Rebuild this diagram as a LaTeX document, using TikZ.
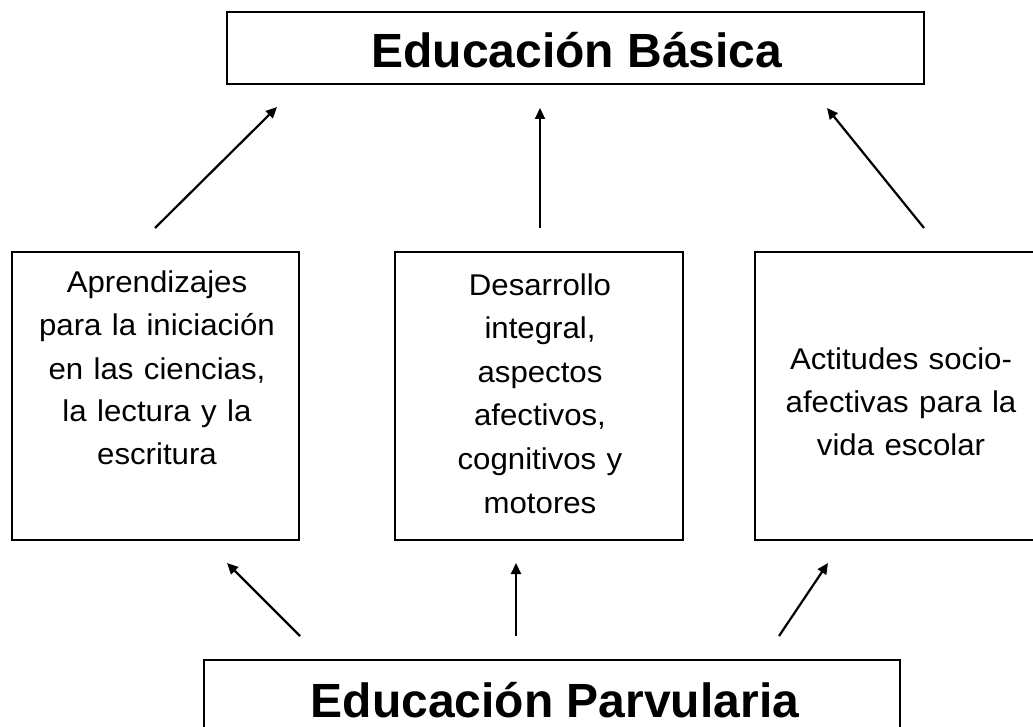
\documentclass[tikz,border=0pt]{standalone}
\usepackage{fontspec}
\setmainfont{Liberation Sans}
\newfontfamily\bodyfont[FakeStretch=1.04,WordSpace=1.2]{Liberation Sans}
\usetikzlibrary{arrows.meta}
\begin{document}
\begin{tikzpicture}[x=1pt,y=-1pt,
  box/.style={draw,line width=1.9pt,inner sep=0pt},
  titletext/.style={font=\bfseries\fontsize{48}{56}\selectfont,anchor=base,inner sep=0pt},
  bodytext/.style={font=\bodyfont\fontsize{30}{43}\selectfont,anchor=base,inner sep=0pt},
  conn/.style={line width=2.2pt,-{Triangle[length=11pt,width=10pt]}}]
\useasboundingbox (0,0) rectangle (1033,727);
\clip (0,0) rectangle (1033,727);
\fill[white] (0,0) rectangle (1033,727);
% boxes
\node[box,minimum width=697pt,minimum height=72pt] (basica) at (575.5,48) {};
\node[box,minimum width=287pt,minimum height=288pt] (left) at (155.5,396) {};
\node[box,minimum width=288pt,minimum height=288pt] (mid) at (539,396) {};
\node[box,minimum width=292pt,minimum height=288pt] (right) at (901,396) {};
\node[box,minimum width=696pt,minimum height=85pt] (parv) at (552,702.5) {};
% texts
\node[titletext] (tbasica) at (577,68) {Educación Básica};
\node[titletext] (tparv) at (555,717) {Educación Parvularia};
\node[bodytext] (tleft) at (157,293) {\begin{tabular}[t]{@{}c@{}}Aprendizajes\\para la iniciación\\en las ciencias,\\la lectura y la\\escritura\end{tabular}};
\node[bodytext,font=\bodyfont\fontsize{30}{43.6}\selectfont] (tmid) at (540,295) {\begin{tabular}[t]{@{}c@{}}Desarrollo\\integral,\\aspectos\\afectivos,\\cognitivos y\\motores\end{tabular}};
\node[bodytext] (tright) at (901,369) {\begin{tabular}[t]{@{}c@{}}Actitudes socio-\\afectivas para la\\vida escolar\end{tabular}};
% arrow end points
\coordinate (a1s) at (155,228); \coordinate (a1e) at (277,107);
\coordinate (a2s) at (540,228); \coordinate (a2e) at (540,108);
\coordinate (a3s) at (924,228); \coordinate (a3e) at (827,108);
\coordinate (b1s) at (300,636); \coordinate (b1e) at (227,563);
\coordinate (b2s) at (516,636); \coordinate (b2e) at (516,563);
\coordinate (b3s) at (779,636); \coordinate (b3e) at (828,563);
\draw[conn] (a1s) -- (a1e);
\draw[conn] (a2s) -- (a2e);
\draw[conn] (a3s) -- (a3e);
\draw[conn] (b1s) -- (b1e);
\draw[conn] (b2s) -- (b2e);
\draw[conn] (b3s) -- (b3e);
\end{tikzpicture}
\end{document}
